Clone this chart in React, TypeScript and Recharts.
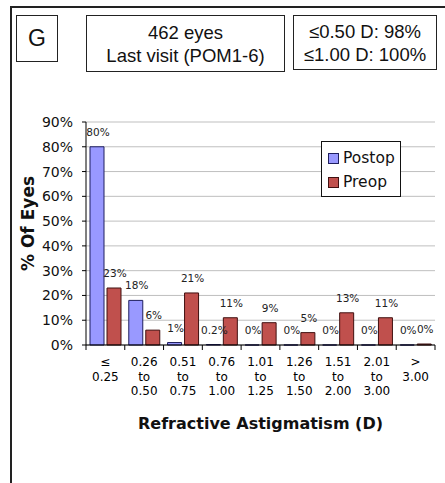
import { Bar, BarChart, CartesianGrid, LabelList, Legend, XAxis, YAxis } from 'recharts'

const categories = ['≤ 0.25', '0.26 to 0.50', '0.51 to 0.75', '0.76 to 1.00', '1.01 to 1.25', '1.26 to 1.50', '1.51 to 2.00', '2.01 to 3.00', '> 3.00']
const postop = [80, 18, 1, 0.2, 0, 0, 0, 0, 0]
const preop = [23, 6, 21, 11, 9, 5, 13, 11, 0.4]
const postopLabels = ['80%', '18%', '1%', '0.2%', '0%', '0%', '0%', '0%', '0%']
const preopLabels = ['23%', '6%', '21%', '11%', '9%', '5%', '13%', '11%', '0%']
const yTicks = [0, 10, 20, 30, 40, 50, 60, 70, 80, 90]

const POSTOP = '#9999FF'
const PREOP = '#C0504D'
const chartFont = '"DejaVu Sans", Verdana, sans-serif'
const boxFont = '"Liberation Sans", Arial, sans-serif'

function XTick(props: any) {
  const { x, y, payload, index, visibleTicksCount, width } = props
  const half = payload.offset ?? width / visibleTicksCount / 2
  const lines = String(payload.value).split(' ')
  const last = index === visibleTicksCount - 1
  return (
    <g>
      <line x1={x - half} x2={x - half} y1={y - 8} y2={y - 3} stroke="#000" />
      {last && <line x1={x + half} x2={x + half} y1={y - 8} y2={y - 3} stroke="#000" />}
      <text x={x} y={y} textAnchor="middle" fontSize={12} fontFamily={chartFont} fill="#000">
        {lines.map((l, i) => (
          <tspan key={i} x={x} dy={i === 0 ? 13 : 14.5}>{l}</tspan>
        ))}
      </text>
    </g>
  )
}

function barLabel(labels: string[]) {
  return (props: any) => {
    const { x, y, width, index } = props
    return (
      <text x={x + width / 2 + 1} y={y - 11} textAnchor="middle" fontSize={10.5} fontFamily={chartFont} fill="#222">
        {labels[index]}
      </text>
    )
  }
}

function LegendBox() {
  const items = [{ name: 'Postop', color: POSTOP, border: '#1f1f5f' }, { name: 'Preop', color: PREOP, border: '#401010' }]
  return (
    <div style={{ border: '1.5px solid #111', background: 'white', width: 80, height: 56, boxSizing: 'border-box', paddingLeft: 6, paddingTop: 4 }}>
      {items.map((it) => (
        <div key={it.name} style={{ display: 'flex', alignItems: 'center', height: 24, fontFamily: chartFont, fontSize: 15.5, color: '#111' }}>
          <div style={{ width: 9, height: 9, background: it.color, border: `1px solid ${it.border}`, marginRight: 4 }} />
          {it.name}
        </div>
      ))}
    </div>
  )
}

export default function App() {
  const data = categories.map((c, i) => ({ name: c, postop: postop[i], preop: preop[i] }))

  const boxStyle = {
    position: 'absolute' as const,
    border: '1.5px solid #222',
    boxSizing: 'border-box' as const,
    display: 'flex',
    flexDirection: 'column' as const,
    alignItems: 'center',
    justifyContent: 'center',
    fontFamily: boxFont,
    fontSize: 18.5,
    lineHeight: '23px',
    color: '#111',
    background: 'white',
  }

  return (
    <div style={{ position: 'absolute', left: 0, top: 0, width: 445, height: 483, overflow: 'hidden', background: 'white' }}>
      <div style={{ position: 'absolute', left: 10, top: 6, width: 600, height: 600, borderLeft: '2px solid #222', borderTop: '2px solid #222' }} />
      <BarChart
        width={445}
        height={483}
        data={data}
        margin={{ top: 122, right: 10, bottom: 78, left: 0 }}
        barSize={14}
        barGap={3}
        style={{ position: 'absolute', left: 0, top: 0 }}
      >
        <CartesianGrid yAxisId="l" vertical={false} stroke="#BFBFBF" />
        <XAxis
          dataKey="name"
          height={60}
          interval={0}
          tickSize={8}
          tickMargin={0}
          tickLine={false}
          axisLine={{ stroke: '#000' }}
          tick={<XTick />}
          label={{ value: 'Refractive Astigmatism (D)', position: 'bottom', offset: 13, fontFamily: chartFont, fontSize: 16, fontWeight: 'bold', fill: '#111' }}
        />
        <YAxis
          yAxisId="l"
          width={86}
          domain={[0, 90]}
          ticks={yTicks}
          interval={0}
          tickFormatter={(v) => `${v}%`}
          tickSize={4}
          tickMargin={9}
          tickLine={{ stroke: '#000' }}
          axisLine={{ stroke: '#000' }}
          tick={{ fontFamily: chartFont, fontSize: 14, fill: '#111' }}
          label={{
            content: (p: any) => {
              const vb = p.viewBox
              const cx = 28
              const cy = vb.y + vb.height / 2 - 10
              return (
                <text x={cx} y={cy} transform={`rotate(-90, ${cx}, ${cy})`} textAnchor="middle" dominantBaseline="central" fontFamily={chartFont} fontSize={17} fontWeight="bold" fill="#111">
                  % Of Eyes
                </text>
              )
            },
          }}
        />
        <YAxis yAxisId="r" orientation="right" width={0} domain={[0, 90]} tick={false} tickLine={false} axisLine={{ stroke: '#999' }} />
        <Legend
          layout="vertical"
          align="center"
          verticalAlign="middle"
          wrapperStyle={{ top: 141, left: 321, width: 80 }}
          content={() => <LegendBox />}
        />
        <Bar
          yAxisId="l"
          dataKey="postop"
          name="Postop"
          fill={POSTOP}
          stroke="#1f1f5f"
          strokeWidth={1}
          minPointSize={(v: number) => (v === 0 ? 0.01 : 0)}
          isAnimationActive={false}
        >
          <LabelList dataKey="postop" content={barLabel(postopLabels)} />
        </Bar>
        <Bar yAxisId="l" dataKey="preop" name="Preop" fill={PREOP} stroke="#401010" strokeWidth={1} isAnimationActive={false}>
          <LabelList dataKey="preop" content={barLabel(preopLabels)} />
        </Bar>
      </BarChart>
      <div style={{ ...boxStyle, left: 16, top: 15, width: 42, height: 47, fontSize: 23 }}>G</div>
      <div style={{ ...boxStyle, left: 86, top: 15, width: 199, height: 57 }}>
        <div>462 eyes</div>
        <div>Last visit (POM1-6)</div>
      </div>
      <div style={{ ...boxStyle, left: 293, top: 15, width: 144, height: 55 }}>
        <div>≤0.50 D: 98%</div>
        <div>≤1.00 D: 100%</div>
      </div>
    </div>
  )
}
